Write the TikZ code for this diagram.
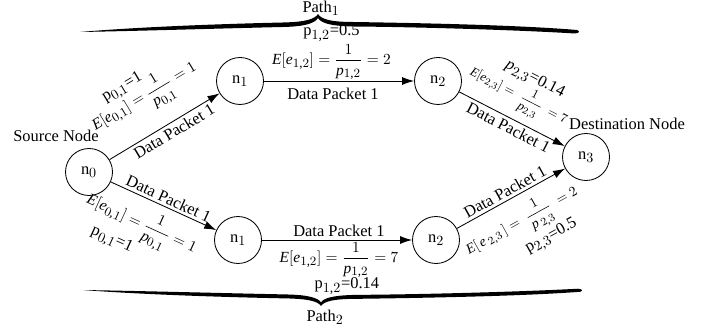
\documentclass[tikz,border=0pt]{standalone}
\usepackage{amsmath}
\usepackage{fontspec}
\setmainfont{Liberation Serif}
\usepackage[italic]{mathastext}
\usepackage{tikz}
\usetikzlibrary{positioning, arrows.meta}

% tapered curly brace, tip at the origin, opening downwards
\newcommand{\pathbrace}{%
  \fill (-238,-17) .. controls (-180,-12) and (-100,-9) .. (-35,-7.5)
    .. controls (-12,-7) and (-3,-4) .. (0,1)
    .. controls (3,-4) and (12,-7) .. (35,-7)
    .. controls (100,-8) and (200,-10) .. (259,-15)
    .. controls (262,-16) and (262,-18) .. (257,-18.5)
    .. controls (200,-15) and (100,-12) .. (35,-11.5)
    .. controls (12,-11) and (3,-8) .. (0,-3)
    .. controls (-3,-8) and (-12,-11.5) .. (-35,-12)
    .. controls (-100,-13.5) and (-180,-16) .. (-238,-17) -- cycle;}

\begin{document}
\begin{tikzpicture}[
  font=\fontsize{11.7}{14}\selectfont,
  hop/.style={draw, circle, minimum size=1.175cm, inner sep=0pt, line width=0.6pt},
  link/.style={-{Latex[length=0.3cm,width=0.2cm]}, line width=0.6pt},
  tag/.style={sloped, inner sep=0pt},
  cost/.style={sloped, inner sep=0pt, font=\fontsize{11}{13}\selectfont}]
\useasboundingbox (0,0) rectangle (17.85,8.225);

% relay nodes
\node[hop] (src) at (2.225,3.925) {n$_0$};
\node[hop] (up1) at (6.0,6.2) {n$_1$};
\node[hop] (up2) at (10.95,6.2) {n$_2$};
\node[hop] (lo1) at (5.95,2.225) {n$_1$};
\node[hop] (lo2) at (10.9,2.225) {n$_2$};
\node[hop] (dst) at (14.65,4.3) {n$_3$};
\node[above=0pt of src, xshift=-0.825cm, inner sep=0.15cm] (srcname) {Source Node};
\node[above=0pt of dst, xshift=1.025cm, inner sep=0.075cm] (dstname) {Destination Node};

% path 1
\draw[link] (src) -- (up1)
  node[tag, pos=0.544, yshift=-0.225cm] {Data Packet 1}
  node[cost, pos=0.486, yshift=0.86cm] {$E[e_{0,1}]=\dfrac{1}{p_{0,1}}=1$}
  node[tag, pos=0.375, yshift=1.36cm] {p$_{0,1}$=1};
\draw[link] (up1) -- (up2)
  node[tag, pos=0.46, yshift=-0.325cm] {Data Packet 1}
  node[cost, pos=0.45, yshift=0.475cm] {$E[e_{1,2}]=\dfrac{1}{p_{1,2}}=2$}
  node[tag, pos=0.45, yshift=1.2cm] {p$_{1,2}$=0.5};
\draw[link] (up2) -- (dst)
  node[tag, pos=0.507, yshift=-0.225cm] {Data Packet 1}
  node[cost, pos=0.461, yshift=0.56cm, font=\fontsize{9}{11}\selectfont] {$E[e_{2,3}]=\;\dfrac{1}{p_{2,3}}\;=7$}
  node[tag, pos=0.518, yshift=1.125cm] {$p_{2,3}$=0.14};

% path 2
\draw[link] (src) -- (lo1)
  node[tag, pos=0.514, yshift=0.225cm] {Data Packet 1}
  node[cost, pos=0.392, yshift=-0.675cm] {$E[e_{0,1}]=\dfrac{1}{p_{0,1}}=1$}
  node[tag, pos=0.215, yshift=-1.32cm] {p$_{0,1}$=1};
\draw[link] (lo1) -- (lo2)
  node[tag, pos=0.513, yshift=0.225cm] {Data Packet 1}
  node[cost, pos=0.513, yshift=-0.5cm] {$E[e_{1,2}]=\dfrac{1}{p_{1,2}}=7$}
  node[tag, pos=0.566, yshift=-1.15cm] {p$_{1,2}$=0.14};
\draw[link] (lo2) -- (dst)
  node[tag, pos=0.483, yshift=0.225cm] {Data Packet 1}
  node[cost, pos=0.49, yshift=-0.65cm, font=\fontsize{10}{12}\selectfont] {$E[\,e_{\,2,3}\,]=\;\dfrac{1}{p_{\,2,3}}\;=2$}
  node[tag, pos=0.638, yshift=-1.33cm] {p$_{2,3}$=0.5};

% braces
\begin{scope}[shift={(7.95,7.85)}, x=0.025cm, y=0.025cm]
  \pathbrace
\end{scope}
\begin{scope}[shift={(8.025,0.6)}, x=0.025cm, y=-0.022cm]
  \pathbrace
\end{scope}
\node (path1) at (8.025,8.025) {Path$_1$};
\node (path2) at (8.125,0.3) {Path$_2$};
\end{tikzpicture}
\end{document}
